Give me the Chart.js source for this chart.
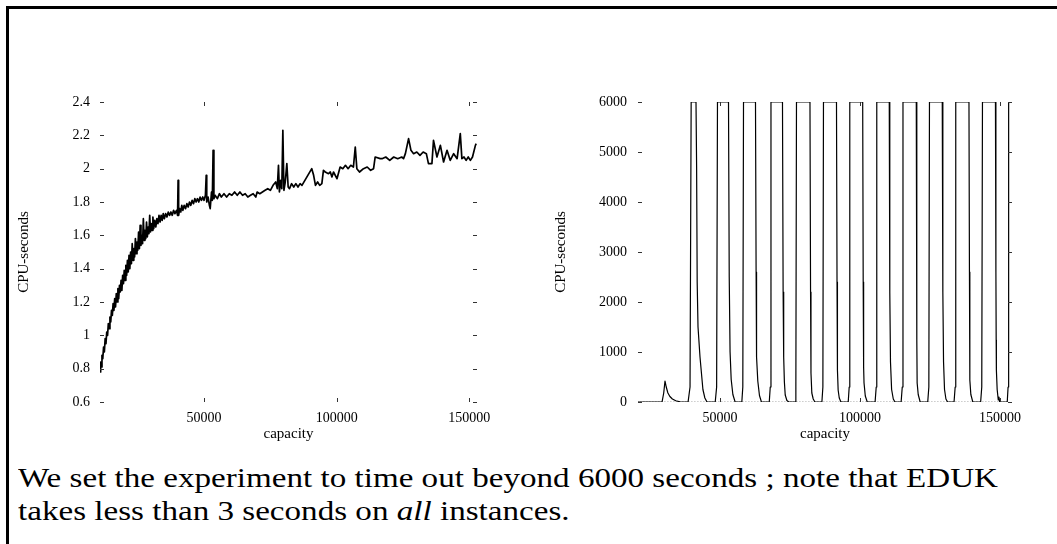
<!DOCTYPE html>
<html>
<head>
<meta charset="utf-8">
<script src="https://cdn.jsdelivr.net/npm/chart.js@4/dist/chart.umd.min.js"></script>
<style>
  html, body { margin: 0; padding: 0; background: #fff; overflow: hidden; }
  #page { position: relative; width: 1057px; height: 544px; }
  #frame { position: absolute; left: 6px; top: 6px; width: 1100px; height: 600px;
           border-top: 3px solid #000; border-left: 3px solid #000; }
  .plot { position: absolute; top: 80px; height: 380px; }
  #leftBox { left: 0; width: 500px; }
  #rightBox { left: 530px; width: 527px; }
  #caption { position: absolute; left: 18px; top: 462px; font: 27px 'Liberation Serif', serif;
             line-height: 33px; white-space: nowrap; transform-origin: 0 0; color: #000; }
</style>
</head>
<body>
<div id="page">
  <div id="frame"></div>
  <div id="leftBox" class="plot"><canvas id="canvas1"></canvas></div>
  <div id="rightBox" class="plot"><canvas id="canvas2"></canvas></div>
  <div id="caption">
    <div id="line1">We set the experiment to time out beyond 6000 seconds ; note that EDUK</div>
    <div>takes less than 3 seconds on <i>all</i> instances.</div>
  </div>
</div>
<script>
// EDUK run times: [capacity, CPU-seconds]
const edukRuns = [
  [10760,0.78],[11000,0.84],[11200,0.81],[11500,0.88],[11800,0.86],[12100,0.93],[12400,0.90],[12700,0.98],
  [13000,0.95],[13300,1.02],[13600,1.00],[13900,1.07],[14200,1.04],[14500,1.11],[14800,1.08],[15100,1.15],
  [15400,1.12],[15700,1.19],[16000,1.15],[16300,1.22],[16600,1.17],[16900,1.25],[17200,1.20],[17500,1.28],
  [17800,1.22],[18100,1.30],[18400,1.26],[18700,1.33],[19000,1.27],[19300,1.36],[19600,1.31],[19900,1.39],
  [20200,1.33],[20500,1.42],[20800,1.36],[21100,1.45],[21400,1.38],[21700,1.48],[22000,1.40],[22300,1.50],
  [22600,1.43],[22900,1.55],[23200,1.45],[23500,1.52],[23800,1.47],[24100,1.58],[24400,1.49],[24700,1.56],
  [25000,1.51],[25300,1.62],[25600,1.52],[25900,1.66],[26200,1.54],[26500,1.60],[26800,1.55],[27100,1.70],
  [27400,1.57],[27700,1.63],[28000,1.58],[28300,1.68],[28600,1.59],[28900,1.65],[29200,1.61],[29500,1.72],
  [29800,1.62],[30100,1.67],[30400,1.63],[30700,1.71],[31000,1.64],[31400,1.69],[31800,1.65],[32200,1.70],
  [32600,1.67],[33000,1.72],[33400,1.68],[33800,1.72],[34200,1.69],[34600,1.73],[35000,1.70],[35500,1.73],
  [36000,1.71],[36500,1.74],[37000,1.72],[37500,1.74],[38000,1.72],[38500,1.75],[39000,1.73],[39600,1.75],
  [40000,1.72],[40200,1.93],[40400,1.72],[40800,1.76],[41200,1.74],[41600,1.78],[42000,1.75],[42500,1.78],
  [43000,1.76],[43500,1.79],[44000,1.77],[44500,1.80],[45000,1.78],[45500,1.81],[46000,1.79],[46500,1.82],
  [47000,1.80],[47500,1.82],[48000,1.80],[48500,1.83],[49000,1.81],[49500,1.83],[50000,1.81],[50500,1.84],
  [50800,1.96],[51000,1.80],[51500,1.83],[52000,1.78],[52300,1.76],[52800,1.86],[53100,1.81],[53400,2.11],
  [53700,1.82],[54200,1.84],[55000,1.82],[55800,1.85],[56500,1.83],[57500,1.85],[58500,1.83],[59500,1.85],
  [60500,1.84],[61500,1.86],[62500,1.84],[63500,1.86],[64500,1.84],[65500,1.85],[66500,1.83],[67500,1.84],
  [68500,1.85],[69500,1.83],[70000,1.86],[71000,1.85],[72000,1.86],[73000,1.87],[74000,1.88],[75000,1.87],
  [76000,1.90],[77000,1.92],[77600,1.88],[78050,2.02],[78400,1.86],[78900,1.93],[79300,1.88],[79700,2.23],
  [80100,1.87],[80600,1.92],[81200,2.03],[81700,1.89],[82200,1.88],[83000,1.91],[83800,1.89],[84600,1.91],
  [85400,1.89],[86200,1.91],[86900,1.90],[90600,2.00],[91300,1.96],[92000,1.90],[92800,1.92],[93600,1.90],
  [94400,1.91],[95000,1.99],[95700,1.98],[96900,1.97],[97600,1.98],[98200,1.95],[98800,1.98],[100100,1.94],
  [101300,2.01],[102300,2.00],[103300,2.02],[104300,2.00],[105300,2.02],[106300,2.01],[107000,2.13],[107600,2.00],
  [108600,1.98],[110100,2.00],[111500,2.01],[112800,1.99],[113900,2.00],[114500,2.07],[116400,2.06],[117100,2.06],
  [118500,2.07],[120000,2.05],[121500,2.07],[123000,2.06],[124500,2.07],[125200,2.06],[125900,2.09],[127100,2.18],
  [128000,2.11],[129000,2.09],[130200,2.10],[131400,2.08],[132600,2.10],[133800,2.09],[134600,2.03],[135900,2.03],
  [136500,2.17],[137800,2.07],[139100,2.14],[140300,2.04],[141600,2.11],[142800,2.05],[144100,2.09],[145400,2.06],
  [146600,2.21],[147200,2.06],[148000,2.07],[148800,2.05],[149600,2.07],[150400,2.05],[151200,2.07],[152300,2.14],
  [152600,2.15]
];

// competing solver, cut off at 6000 s: [capacity, CPU-seconds]
const timeoutRuns = [
  [20714,0],[29300,0],[29900,180],[30360,420],[30800,300],[31400,180],[32100,110],[33000,60],[34200,25],[35700,5],
  [38600,0],[39300,300],[39700,6000],[41430,6000],[41650,4700],[41850,2400],[42150,1500],[42860,900],[43900,250],[44600,80],[45360,0],
  [48300,0],[48800,300],[49100,6000],[53040,6000],[53300,2500],[53600,1000],[54000,450],[54600,150],[55400,0],
  [57800,0],[58150,300],[58400,6000],[62680,6000],[62900,2600],[63040,1580],[63080,900],[63500,420],[64100,130],[64800,0],
  [67600,0],[67950,300],[68210,6000],[72320,6000],[72550,2200],[72750,900],[73000,400],[73300,140],[73900,30],[74600,0],
  [76800,0],[77100,300],[77320,6000],[82140,6000],[82350,2200],[82500,580],[82800,180],[83300,60],[83900,0],
  [86400,0],[86750,300],[86960,6000],[91610,6000],[91800,2400],[91950,640],[92200,240],[92600,80],[93200,0],
  [95800,0],[96150,300],[96360,6000],[100970,6000],[101150,2400],[101300,700],[101450,380],[101900,120],[102600,0],
  [105400,0],[105800,300],[106000,6000],[110460,6000],[110650,2200],[110900,800],[111300,250],[111900,60],[112500,0],
  [114700,0],[115100,300],[115360,6000],[120110,6000],[120250,2600],[120350,1240],[120420,380],[120800,150],[121500,0],
  [124200,0],[124600,300],[124820,6000],[129390,6000],[129600,2200],[129850,800],[130200,250],[130700,60],[131300,0],
  [133600,0],[134000,300],[134210,6000],[138930,6000],[139100,2600],[139200,1380],[139280,440],[139600,150],[140300,0],
  [143100,0],[143500,300],[143750,6000],[148390,6000],[148550,2600],[148650,1240],[148720,640],[149000,250],[149400,40],
  [149650,100],[149900,0],
  [152600,0],[152900,300],[153100,6000],[154200,6000]
];

const capacityTicks = [50000, 100000, 150000];
const edukTicks = [0.6, 0.8, 1, 1.2, 1.4, 1.6, 1.8, 2, 2.2, 2.4];
const timeoutTicks = [0, 1000, 2000, 3000, 4000, 5000, 6000];

const serif = 'Liberation Serif';

// gnuplot-like inward tick marks on all four sides, no border line
const tickMarks = {
  id: 'tickMarks',
  afterDatasetsDraw(chart) {
    const {ctx, chartArea: a, scales: {x, y}} = chart;
    ctx.save();
    ctx.strokeStyle = '#333';
    ctx.lineWidth = 1;
    ctx.beginPath();
    x.ticks.forEach(t => {
      const px = Math.round(x.getPixelForValue(t.value)) + 0.5;
      ctx.moveTo(px, a.bottom); ctx.lineTo(px, a.bottom - 4);
      ctx.moveTo(px, a.top); ctx.lineTo(px, a.top + 4);
    });
    y.ticks.forEach(t => {
      const py = Math.round(y.getPixelForValue(t.value)) + 0.5;
      ctx.moveTo(a.left, py); ctx.lineTo(a.left + 4, py);
      ctx.moveTo(a.right, py); ctx.lineTo(a.right - 4, py);
    });
    ctx.stroke();
    ctx.restore();
  }
};

function makeChart(canvas, cfg) {
  return new Chart(canvas, {
    type: 'line',
    data: { datasets: cfg.datasets },
    options: {
      responsive: true,
      maintainAspectRatio: false,
      animation: false,
      layout: { padding: { top: 22, right: cfg.padRight, bottom: 0, left: 0 } },
      plugins: { legend: { display: false }, tooltip: { enabled: false } },
      elements: { point: { radius: 0 }, line: { tension: 0, borderJoinStyle: 'round' } },
      scales: {
        x: {
          type: 'linear',
          min: cfg.xMin,
          max: cfg.xMax,
          afterBuildTicks: s => { s.ticks = capacityTicks.map(v => ({ value: v })); },
          afterFit: s => { s.height = 58; },
          grid: { display: false, drawTicks: false },
          border: { display: false },
          ticks: { color: '#000', padding: 8, maxRotation: 0, font: { family: serif, size: 14 },
                   callback: v => String(v) },
          title: { display: true, text: 'capacity', color: '#000',
                   font: { family: serif, size: 15 }, padding: { top: 0, bottom: 17 } }
        },
        y: {
          min: cfg.yMin,
          max: cfg.yMax,
          afterBuildTicks: s => { s.ticks = cfg.yTicks.map(v => ({ value: v })); },
          afterFit: s => { s.width = cfg.yWidth; },
          grid: { display: false, drawTicks: false },
          border: { display: false },
          ticks: { color: '#000', padding: cfg.tickPad, font: { family: serif, size: 14 },
                   callback: v => String(Math.round(v * 10) / 10) },
          title: { display: true, text: 'CPU-seconds', color: '#000',
                   font: { family: serif, size: 15 }, padding: { top: cfg.titlePad, bottom: 0 } }
        }
      }
    },
    plugins: [tickMarks]
  });
}

const toPoints = runs => runs.map(r => ({ x: r[0], y: r[1] }));

makeChart(document.getElementById('canvas1'), {
  datasets: [{
    data: toPoints(edukRuns),
    borderColor: '#000',
    borderWidth: 1.7
  }],
  xMin: 10755, xMax: 152900,
  yMin: 0.6, yMax: 2.4, yTicks: edukTicks,
  yWidth: 100, tickPad: 10, titlePad: 15, padRight: 23
});

makeChart(document.getElementById('canvas2'), {
  datasets: [{
    data: toPoints(timeoutRuns),
    borderColor: '#000',
    borderWidth: 1.2
  }, {
    data: toPoints(edukRuns),
    borderColor: '#777',
    borderWidth: 1,
    borderDash: [1, 2]
  }],
  xMin: 20714, xMax: 154300,
  yMin: 0, yMax: 6000, yTicks: timeoutTicks,
  yWidth: 108, tickPad: 11, titlePad: 22, padRight: 45
});

// stretch the caption so the first line spans the full text width
const caption = document.getElementById('caption');
const w = document.getElementById('line1').getBoundingClientRect().width;
caption.style.transform = 'scaleX(' + (980 / w) + ')';
</script>
</body>
</html>
